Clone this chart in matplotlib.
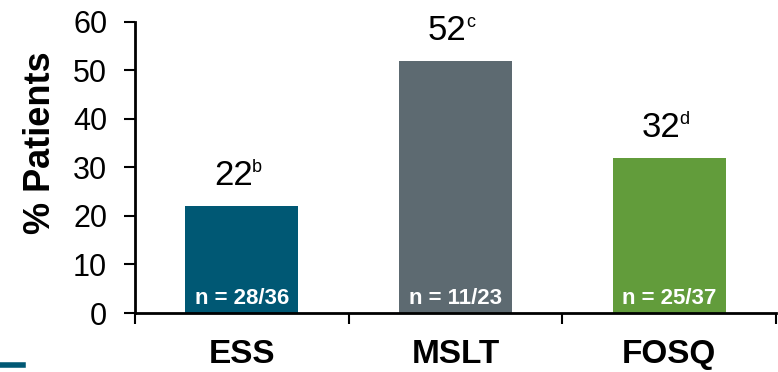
import matplotlib
matplotlib.use('Agg')
import matplotlib.pyplot as plt
from matplotlib.lines import Line2D

plt.rcParams['font.family'] = ['Liberation Sans', 'DejaVu Sans']

categories = ['ESS', 'MSLT', 'FOSQ']
percent = [22, 52, 32]
footnotes = ['b', 'c', 'd']
n_labels = ['n = 28/36', 'n = 11/23', 'n = 25/37']
colors = ['#005874', '#5d6a71', '#629c3b']

fig = plt.figure(figsize=(7.78, 3.72), dpi=100)
ax = fig.add_axes([0.1735, 0.1586, 0.8240, 0.7823])

x = range(len(categories))
bars = ax.bar(x, percent, width=0.53, color=colors, zorder=2)

for xi, v, fn, n in zip(x, percent, footnotes, n_labels):
    # value with small footnote letter to its upper right
    ax.annotate(str(v), (xi, v), xytext=(8, 15), textcoords='offset points',
                ha='right', va='baseline', fontsize=25)
    ax.annotate(fn, (xi, v), xytext=(7.5, 24.5), textcoords='offset points',
                ha='left', va='baseline', fontsize=13)
    ax.annotate(n, (xi, 0), xytext=(0, 3), textcoords='offset points',
                ha='center', va='bottom', fontsize=16, fontweight='bold',
                color='white')

ax.set_xlim(-0.5, 2.5)
ax.set_ylim(0, 60)
ax.set_yticks(range(0, 61, 10))
ax.tick_params(axis='y', labelsize=22, length=8, width=1.5, pad=12)

# category labels centered, boundary ticks between groups
ax.set_xticks(list(x))
ax.set_xticklabels(categories, fontsize=24, fontweight='bold')
ax.tick_params(axis='x', which='major', length=0, pad=19)
ax.set_xticks([-0.5, 0.5, 1.5, 2.5], minor=True)
ax.tick_params(axis='x', which='minor', length=8, width=1.5)

for side in ['top', 'right']:
    ax.spines[side].set_visible(False)
for side in ['left', 'bottom']:
    ax.spines[side].set_linewidth(2)

ax.set_ylabel('% Patients', fontsize=26, fontweight='bold', labelpad=11, y=0.585)

fig.add_artist(Line2D([0, 0.029], [0.018, 0.018], color='#005874', lw=4,
                      transform=fig.transFigure))

fig.savefig('out.png', dpi=100)
